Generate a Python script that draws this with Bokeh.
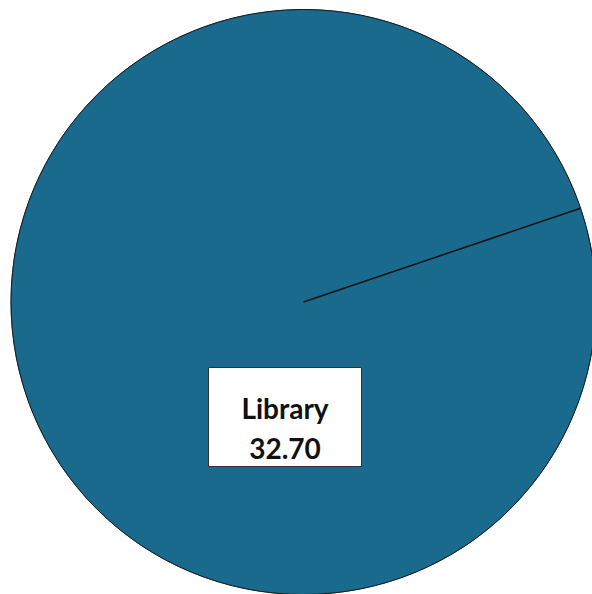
import numpy as np
from bokeh.plotting import figure
from bokeh.models import Range1d, ColumnDataSource
from bokeh.core.properties import value
from bokeh.embed import file_html
from bokeh.resources import INLINE

categories = ["Library"]
values = [32.70]
colors = ["#1A6A8E"]

start_deg = 18.7
vals = np.array(values, dtype=float)
frac = vals / vals.sum()
a0 = np.radians(start_deg)
ends = a0 + 2 * np.pi * np.cumsum(frac)
starts = np.concatenate([[a0], ends[:-1]])

W, H = 592, 594
cx, cy, r = 303.0, 292.5, 292.5

p = figure(width=W, height=H, output_backend="svg", toolbar_location=None,
           x_range=Range1d(0, W), y_range=Range1d(0, H), min_border=0)
p.axis.visible = False
p.grid.visible = False
p.outline_line_color = None

# fill each slice as sub-wedges of at most 90 degrees (avoids degenerate full-circle arcs)
wx, wy, ws, we, wc = [], [], [], [], []
for s, e, c in zip(starts, ends, colors):
    n = max(1, int(np.ceil((e - s) / (np.pi / 2))))
    edges = np.linspace(s, e, n + 1)
    for k in range(n):
        wx.append(cx); wy.append(cy)
        ws.append(edges[k]); we.append(edges[k + 1]); wc.append(c)
p.wedge(x=wx, y=wy, radius=r, start_angle=ws, end_angle=we, fill_color=wc,
        line_color=wc, line_width=1)

# outline and slice borders
p.circle(x=[cx], y=[cy], radius=r, fill_color=None, line_color="#1a1a1a", line_width=1)
p.segment(x0=[cx] * len(starts), y0=[cy] * len(starts),
          x1=cx + r * np.cos(starts), y1=cy + r * np.sin(starts),
          line_color="#111111", line_width=1.5)

# data label
bx0, bx1, by0, by1 = 208, 361, 128, 227
p.quad(left=[bx0], right=[bx1], bottom=[by0], top=[by1], fill_color="white",
       line_color="#333333", line_width=1)
lbl_x = (bx0 + bx1) / 2
p.text(x=[lbl_x, lbl_x], y=[H - 407, H - 448],
       text=[categories[0], f"{values[0]:.2f}"],
       text_align="center", text_baseline="alphabetic",
       text_font=value("Lato"), text_font_style="bold",
       text_font_size="28px", text_color="#111111")

open("out.html", "w").write(file_html(p, INLINE))
